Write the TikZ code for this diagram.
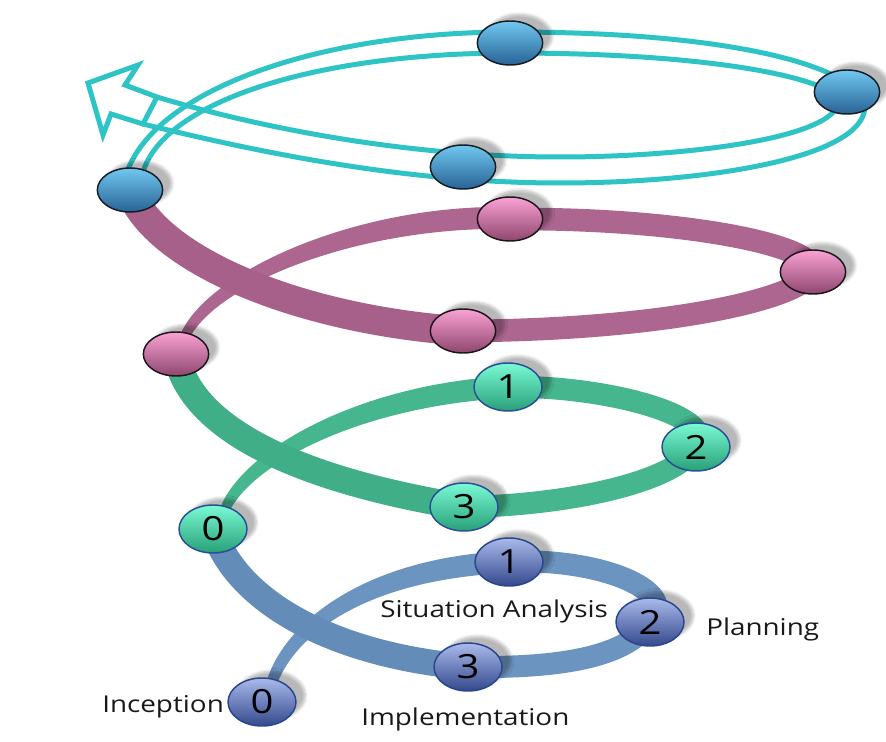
\documentclass[tikz,border=0pt]{standalone}
\usepackage{fontspec}
\setmainfont{Open Sans}
\newfontfamily\labfont[FakeStretch=1.2]{Open Sans}
\usetikzlibrary{shapes.geometric,calc,shadows.blur}
\pgfdeclarelayer{rings}
\pgfsetlayers{rings,main}

% ring colours
\definecolor{ringCc}{RGB}{46,196,198}
\definecolor{ringPc}{RGB}{172,102,143}
\definecolor{ringPf}{RGB}{166,96,138}
\definecolor{ringGc}{RGB}{70,182,142}
\definecolor{ringGf}{RGB}{64,174,135}
\definecolor{ringBc}{RGB}{108,148,192}
\definecolor{ringBf}{RGB}{100,140,185}
% stage colours
\definecolor{ncT}{RGB}{112,200,240}
\definecolor{ncB}{RGB}{40,98,148}
\definecolor{ncD}{RGB}{20,28,38}
\definecolor{npT}{RGB}{250,162,212}
\definecolor{npB}{RGB}{142,70,110}
\definecolor{npD}{RGB}{30,20,28}
\definecolor{ngT}{RGB}{122,250,212}
\definecolor{ngB}{RGB}{40,160,120}
\definecolor{ngD}{RGB}{40,78,150}
\definecolor{nbT}{RGB}{170,186,236}
\definecolor{nbB}{RGB}{52,72,140}
\definecolor{nbD}{RGB}{40,70,140}

\tikzset{
  stage/.style={ellipse, inner sep=0pt, line width=1.1pt,
    font=\labfont\fontsize{25}{25}\selectfont,
    blur shadow={shadow xshift=7pt, shadow yshift=5pt, shadow blur steps=6,
      shadow opacity=28}},
  stbig/.style={stage, minimum width=51pt, minimum height=36pt},
  stsmall/.style={stage, minimum width=49pt, minimum height=33pt},
  stC/.style={stsmall, top color=ncT, bottom color=ncB, draw=ncD},
  stP/.style={stsmall, top color=npT, bottom color=npB, draw=npD},
  stG/.style={stbig, top color=ngT, bottom color=ngB, draw=ngD},
  stB/.style={stbig, top color=nbT, bottom color=nbB, draw=nbD},
  cyanline/.style={draw=ringCc, line width=3.75pt, line join=round},
  ringP/.style={draw=ringPc, line width=17pt},
  ringPfront/.style={draw=ringPf, line width=22pt},
  ringG/.style={draw=ringGc, line width=16.5pt},
  ringGfront/.style={draw=ringGf, line width=20pt},
  ringB/.style={draw=ringBc, line width=16.5pt},
  ringBfront/.style={draw=ringBf, line width=19.5pt},
  lab/.style={font=\labfont\fontsize{17.4}{19}\selectfont, text=black!90,
    inner sep=0pt, anchor=base west}
}

\begin{document}
\begin{tikzpicture}[x=0.75pt,y=-0.75pt]
\useasboundingbox (0,0) rectangle (886,742);

% stages of the fourth turn
\node[stC] (c0) at (130,190) {};
\node[stC] (c1) at (510,43) {};
\node[stC] (c2) at (847,92) {};
\node[stC] (c3) at (463,167) {};
% stages of the third turn
\node[stP] (p0) at (176,354) {};
\node[stP] (p1) at (510,219) {};
\node[stP] (p2) at (813,272) {};
\node[stP] (p3) at (463,331) {};
% stages of the second turn
\node[stG] (g0) at (213,529) {0};
\node[stG] (g1) at (508,387) {1};
\node[stG] (g2) at (696,447) {2};
\node[stG] (g3) at (464,507) {3};
% stages of the first turn
\node[stB] (b0) at (262,702) {0};
\node[stB] (b1) at (509,562) {1};
\node[stB] (b2) at (650,622) {2};
\node[stB] (b3) at (468,667) {3};

% stage names
\node[lab] (lin) at (102,712) {Inception};
\node[lab] (lsa) at (380,617) {Situation Analysis};
\node[lab] (lpl) at (706,635) {Planning};
\node[lab] (lim) at (361,725) {Implementation};

\begin{pgfonlayer}{rings}
  % fourth turn: two thin strands ending in a hollow arrow
  \coordinate (ahA) at (143,124);
  \coordinate (ahB) at (157,97);
  \draw[cyanline] ($(c0)+(-5,-12)$) .. controls (150,90) and (320,32) .. (510,32)
     .. controls (760,32) and (876,75) .. (864,113)
     .. controls (851,160) and (700,183) .. (560,183)
     .. controls (400,183) and (250,150) .. (ahA);
  \draw[cyanline] ($(c0)+(13,-18)$) .. controls (165,100) and (320,53) .. (510,53)
     .. controls (740,53) and (850,85) .. (838,105)
     .. controls (825,140) and (680,157) .. (560,157)
     .. controls (400,157) and (250,125) .. (ahB);
  \draw[cyanline, line join=miter] (ahB) -- (125,85) -- (138,65) -- (88,83)
     -- (103,135) -- (111,114) -- (ahA) -- cycle;

  % third turn
  \fill[ringPc] ($(p0)+(5,-21)$) .. controls (209,271) and (357,204) .. ($(p1)+(0,-12)$)
     -- ($(p1)+(0,10)$) .. controls (364,226) and (221,281) .. ($(p0)+(14,-17)$) -- cycle;
  \draw[ringP] (p1.center) .. controls (680,218) and (820,245) .. (p2.center)
     .. controls (800,300) and (660,330) .. (p3.center);
  \draw[ringPfront] (p3.center) .. controls (300,320) and (155,260) .. (c0.center);

  % second turn
  \fill[ringGc] ($(g0)+(8,-23)$) .. controls (244,450) and (358,384) .. ($(g1)+(0,-11)$)
     -- ($(g1)+(0,11)$) .. controls (364,406) and (256,461) .. ($(g0)+(17,-19)$) -- cycle;
  \draw[ringG] (g1.center) .. controls (600,385) and (720,415) .. (g2.center)
     .. controls (675,482) and (570,505) .. (g3.center);
  \draw[ringGfront] (g3.center) .. controls (300,480) and (190,430) .. (p0.center);

  % first turn
  \fill[ringBc] ($(b0)+(5,-22)$) .. controls (286,620) and (368,557) .. ($(b1)+(0,-11)$)
     -- ($(b1)+(0,11)$) .. controls (372,579) and (298,630) .. ($(b0)+(15,-18)$) -- cycle;
  \draw[ringB] (b1.center) .. controls (595,557) and (682,590) .. (b2.center)
     .. controls (625,660) and (550,668) .. (b3.center);
  \draw[ringBfront] (b3.center) .. controls (330,655) and (235,600) .. (g0.center);
\end{pgfonlayer}
\end{tikzpicture}
\end{document}
